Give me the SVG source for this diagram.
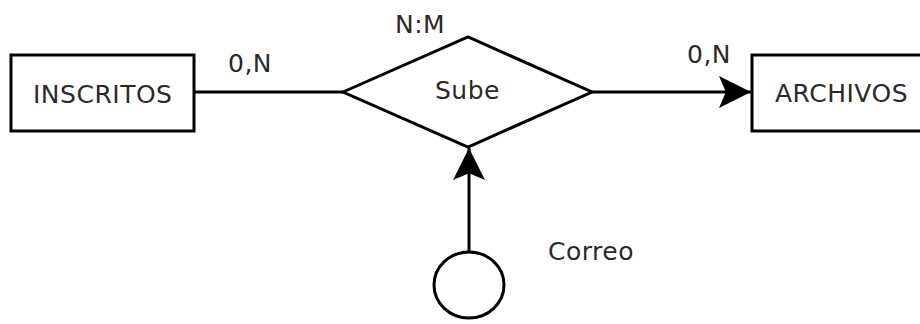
<svg xmlns="http://www.w3.org/2000/svg" width="920" height="324" viewBox="0 0 920 324">
<style>
.shape{fill:#fff;stroke:#000;stroke-width:3}
.edge{fill:none;stroke:#000;stroke-width:3}
.t{font-family:"DejaVu Sans",sans-serif;font-size:25px;letter-spacing:0.5px;fill:#2a2a2a}
</style>
<defs>
<marker id="arr" markerUnits="userSpaceOnUse" markerWidth="32" markerHeight="32" viewBox="0 0 28 28" refX="28" refY="14" orient="auto">
<path d="M0,0 L28,14 L0,28 L6,14 Z" fill="#000"/>
</marker>
</defs>
<rect width="920" height="324" fill="#fff"/>
<g id="connectors">
<line class="edge" x1="194" y1="92" x2="343" y2="92"/>
<line class="edge" x1="592" y1="92" x2="751" y2="92" marker-end="url(#arr)"/>
<line class="edge" x1="469" y1="252" x2="469" y2="148" marker-end="url(#arr)"/>
<text class="t" x="228" y="72">0,N</text>
<text class="t" x="687" y="63">0,N</text>
</g>
<g id="inscritos">
<rect class="shape" x="11" y="55" width="183" height="76"/>
<text class="t" x="33" y="103">INSCRITOS</text>
</g>
<g id="sube">
<polygon class="shape" points="343,92 468,37 592,92 468,147"/>
<text class="t" x="395" y="33">N:M</text>
<text class="t" x="435" y="99">Sube</text>
</g>
<g id="archivos">
<rect class="shape" x="752" y="55" width="175" height="76"/>
<text class="t" x="775" y="102">ARCHIVOS</text>
</g>
<g id="correo">
<ellipse class="shape" cx="469" cy="285" rx="35" ry="33"/>
<text class="t" x="548" y="260">Correo</text>
</g>
</svg>
